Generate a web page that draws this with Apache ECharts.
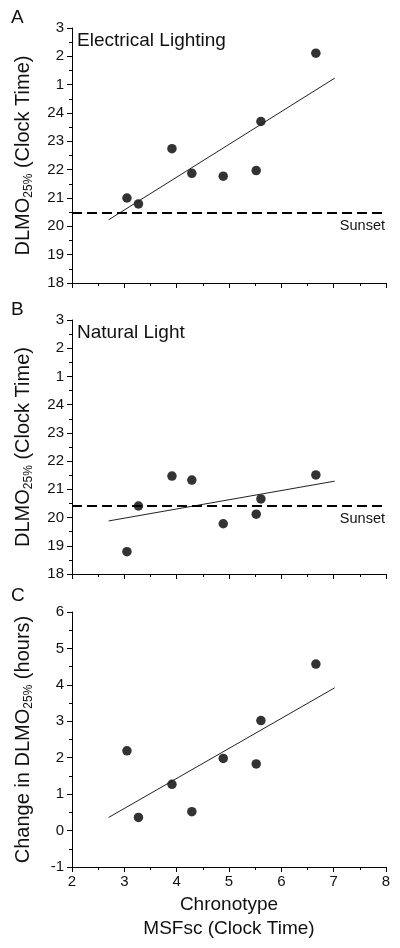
<!DOCTYPE html>
<html><head><meta charset="utf-8">
<script src="https://cdn.jsdelivr.net/npm/echarts@6/dist/echarts.min.js"></script>
<style>html,body{margin:0;padding:0;background:#fff}#c{width:400px;height:948px}</style>
</head><body><div id="c"></div>
<script>
// Chronotype (MSFsc, clock time) for each participant
const chronotype = [3.05, 3.27, 3.91, 4.29, 4.89, 5.52, 5.61, 6.66];
// DLMO25% (clock hours, >24 means after midnight)
const dlmoElectrical = [21.0, 20.79, 22.74, 21.87, 21.77, 21.97, 23.70, 26.11];
const dlmoNatural = [18.79, 20.41, 21.47, 21.33, 19.78, 20.12, 20.66, 21.51];
const dlmoChange = [2.19, 0.36, 1.27, 0.52, 1.98, 1.83, 3.02, 4.57];
// regression line endpoints
const fitX = [2.70, 7.02];
const fitElectrical = [20.23, 25.23];
const fitNatural = [19.88, 21.29];
const fitChange = [0.36, 3.92];
// sunset times
const sunsetElectrical = 20.48;
const sunsetNatural = 20.41;
// tick labels
const clockTicks = ['18', '19', '20', '21', '22', '23', '24', '1', '2', '3'];
const xTicks = ['2', '3', '4', '5', '6', '7', '8'];
const panelLetters = ['A', 'B', 'C'];
const panelTitles = ['Electrical Lighting', 'Natural Light'];

const FONT = 'Liberation Sans, Arial, sans-serif';
const INK = '#000';
const chart = echarts.init(document.getElementById('c'), null, {renderer: 'canvas'});

const grids = [
  {left: 72, right: 14, top: 28, height: 255},
  {left: 72, right: 14, top: 320, height: 254},
  {left: 72, right: 14, top: 612, height: 255}
];

function xAxis(i) {
  return {
    gridIndex: i, type: 'value', min: 2, max: 8, interval: 1,
    axisLine: {show: true, onZero: false, lineStyle: {color: INK, width: 1}},
    axisTick: {show: true, length: 5, lineStyle: {color: INK}},
    minorTick: {show: true, splitNumber: 2, length: 3, lineStyle: {color: INK}},
    splitLine: {show: false},
    axisLabel: {show: i === 2, color: '#111', fontFamily: FONT, fontSize: 15, margin: 7,
      formatter: v => xTicks[Math.round(v) - 2]},
    name: i === 2 ? 'Chronotype\nMSFsc (Clock Time)' : '',
    nameLocation: 'middle', nameGap: 26,
    nameTextStyle: {color: '#111', fontFamily: FONT, fontSize: 19, lineHeight: 24}
  };
}

const subRich = {
  m: {fontFamily: FONT, fontSize: 20, color: '#111', lineHeight: 24},
  s: {fontFamily: FONT, fontSize: 12, color: '#111', lineHeight: 24, verticalAlign: 'bottom', padding: [10, 0, 0, 0]}
};

function yAxis(i) {
  const clock = i < 2;
  return {
    gridIndex: i, type: 'value',
    min: clock ? 18 : -1, max: clock ? 27 : 6, interval: 1,
    axisLine: {show: true, onZero: false, lineStyle: {color: INK, width: 1}},
    axisTick: {show: true, length: 5, lineStyle: {color: INK}},
    minorTick: {show: true, splitNumber: 2, length: 3, lineStyle: {color: INK}},
    splitLine: {show: false},
    axisLabel: {color: '#111', fontFamily: FONT, fontSize: 15, margin: 8,
      formatter: v => clock ? clockTicks[Math.round(v) - 18] : String(v)},
    name: clock ? '{m|DLMO}{s|25%}{m| (Clock Time)}' : '{m|Change in DLMO}{s|25%}{m| (hours)}',
    nameLocation: 'middle', nameRotate: 90, nameGap: 37,
    nameTextStyle: {rich: subRich}
  };
}

const scatterData = [dlmoElectrical, dlmoNatural, dlmoChange];
const fitData = [fitElectrical, fitNatural, fitChange];
const sunsets = [sunsetElectrical, sunsetNatural];

const series = [];
for (let i = 0; i < 3; i++) {
  series.push({
    type: 'line', xAxisIndex: i, yAxisIndex: i, symbol: 'none', silent: true,
    lineStyle: {color: '#222', width: 1},
    data: fitX.map((x, k) => [x, fitData[i][k]]),
    markLine: i < 2 ? {
      symbol: 'none', silent: true, animation: false,
      lineStyle: {color: INK, type: [10, 5], width: 2},
      label: {show: true, position: 'insideEndBottom', formatter: 'Sunset', color: '#111',
        fontFamily: FONT, fontSize: 14.5, distance: [1, 6]},
      data: [{yAxis: sunsets[i]}]
    } : undefined
  });
  series.push({
    type: 'scatter', xAxisIndex: i, yAxisIndex: i, symbol: 'circle', symbolSize: 9.5,
    itemStyle: {color: INK},
    data: chronotype.map((x, k) => [x, scatterData[i][k]])
  });
}

const graphic = [];
const letterY = [18, 310, 596];
panelLetters.forEach((t, i) => graphic.push({
  type: 'text', left: 11, top: letterY[i] - 10,
  style: {text: t, font: '19px ' + FONT, fill: '#111'}
}));
const titleY = [42, 334];
panelTitles.forEach((t, i) => graphic.push({
  type: 'text', left: 77, top: titleY[i] - 11,
  style: {text: t, font: '19px ' + FONT, fill: '#111'}
}));

chart.setOption({
  animation: false,
  backgroundColor: '#fff',
  grid: grids,
  xAxis: [0, 1, 2].map(xAxis),
  yAxis: [0, 1, 2].map(yAxis),
  series: series,
  graphic: graphic
});
</script></body></html>
